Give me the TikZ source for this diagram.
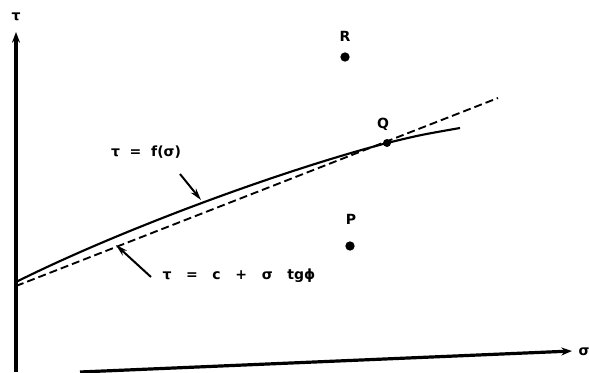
\documentclass[tikz,border=0pt]{standalone}
\usepackage{fontspec}
\setmainfont{DejaVu Sans}
\usetikzlibrary{arrows.meta}
\begin{document}
\begin{tikzpicture}[x=0.75pt,y=-0.75pt,
  axis/.style={line width=2.4pt,-{Stealth[length=8pt,width=6pt]}},
  lbl/.style={font=\fontsize{10.5}{12}\selectfont\bfseries,inner sep=1pt},
  curveline/.style={line width=1.6pt},
  dashline/.style={line width=1.4pt,dash pattern=on 6pt off 3pt},
  leader/.style={line width=1.5pt,-{Stealth[length=9pt,width=5pt]}},
  pt/.style={circle,fill=black,inner sep=0pt,minimum size=7pt}]
\useasboundingbox (0,0) rectangle (589,372);
% axes
\coordinate (o) at (16,372);
\coordinate (ytop) at (16,32);
\coordinate (xs) at (80,372);
\coordinate (xe) at (572,351);
\draw[axis] (o) -- (ytop);
\draw[axis] (xs) -- (xe);
\node[lbl] (tau) at (16,17) {τ};
\node[lbl,anchor=west] (sig) at (577,352) {σ};
% lines
\coordinate (c0) at (16,282);
\coordinate (Q) at (387,143);
\coordinate (fend) at (460,128);
\draw[curveline] (c0) .. controls (120,230) and (280,171) .. (Q) .. controls (420,135) .. (fend);
\coordinate (d0) at (16,286);
\coordinate (d1) at (498,98);
\draw[dashline] (d0) -- (d1);
% points
\node[pt] (R) at (345,57) {};
\node[lbl] (Rl) at (345,36) {R};
\node[pt] (P) at (350,246) {};
\node[lbl] (Pl) at (351,219) {P};
\node[pt,minimum size=6pt] (Qd) at (Q) {};
\node[lbl] (Ql) at (383,124) {Q};
% labels
\node[lbl] (flab) at (146,152) {τ \ = \ f(σ)};
\coordinate (fa) at (201,200);
\draw[leader] (180,174) -- (fa);
\node[lbl,anchor=west] (llab) at (161,276) {τ \ \ = \ \ c \ \ + \ \ σ \ \ tgϕ};
\coordinate (la) at (116,245);
\draw[leader] (llab.west) ++(-10,1) coordinate (lt) -- (la);
\end{tikzpicture}
\end{document}
